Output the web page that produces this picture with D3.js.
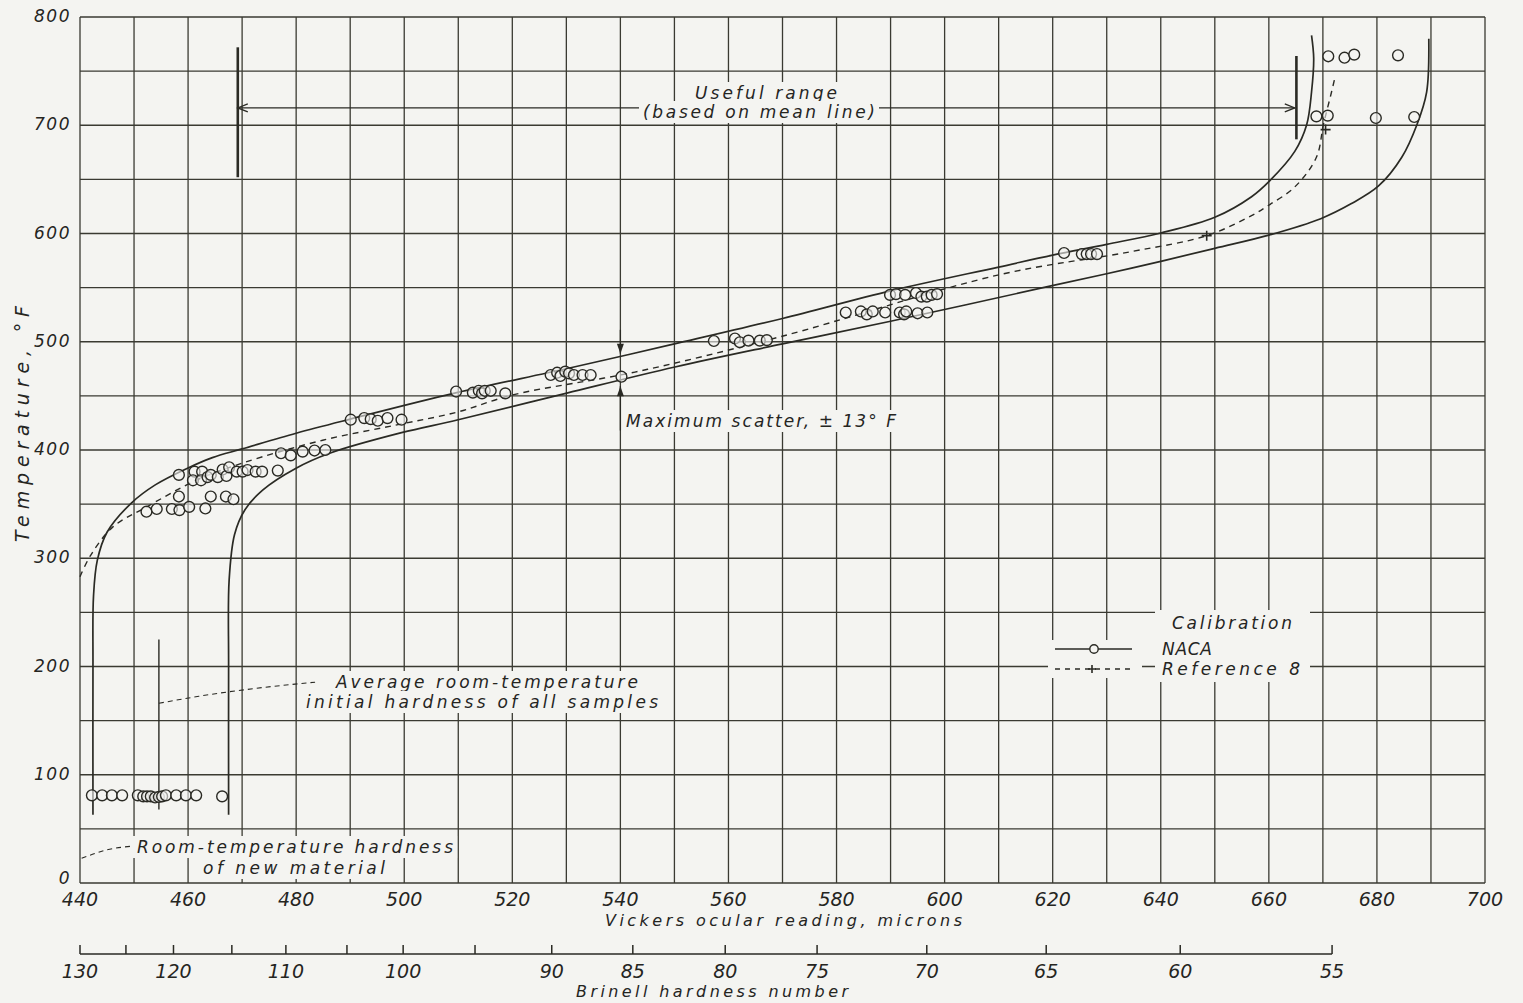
<!DOCTYPE html>
<html>
<head>
<meta charset="utf-8">
<script src="https://cdn.jsdelivr.net/npm/d3@7"></script>
<style>
  body { margin: 0; background: #f4f4f1; }
  svg { display: block; }
  text { font-family: "DejaVu Sans", sans-serif; font-style: italic; fill: #25251f; }
</style>
</head>
<body>
<svg id="chart" width="1523" height="1003"></svg>
<script>
// ---- values ----
// tick labels
var vickersTicks = [440, 460, 480, 500, 520, 540, 560, 580, 600, 620, 640, 660, 680, 700];
var tempTicks = [0, 100, 200, 300, 400, 500, 600, 700, 800];

// Brinell scale: number and the Vickers reading it sits under
var brinellNumbers   = [130, 125, 120, 115, 110, 105, 100, 95, 90, 85, 80, 75, 70, 65, 60, 55];
var brinellAtReading = [440, 448.5, 457.3, 468.1, 478.1, 489.4, 499.8, 513.1, 527.3, 542.3, 559.4, 576.4, 596.7, 618.8, 643.6, 671.7];
var brinellLabelled  = [130, 120, 110, 100, 90, 85, 80, 75, 70, 65, 60, 55];

// NACA calibration points [reading, temperature F]
var nacaRoom = [[442.2,81],[444.1,81],[445.9,81],[447.8,81],[450.7,81],[451.7,80],[452.4,80],[453.1,80],
  [453.9,79],[454.6,79.5],[455.2,80],[455.9,81],[457.8,81],[459.6,81],[461.5,81],[466.3,80]];
var naca350 = [[452.3,343],[454.2,345.5],[457,345.5],[458.4,344.5],[460.2,347.5],[463.2,346],
  [458.3,357],[464.2,357],[467,357],[468.4,354.5]];
var naca380 = [[458.3,377],[461.2,380],[462.6,380],[460.9,372],[462.4,372],[463.6,375],[464.2,377],
  [465.5,375],[466.4,382],[467.1,376],[467.6,384],[469,380],[470.1,380],[471,381.5],[472.5,380],
  [473.7,380],[476.6,381],[477.2,397],[479,395],[481.2,398.5],[483.4,399.5],[485.4,400]];
var naca430 = [[490.1,428],[492.6,429.5],[493.8,428.5],[495.1,427],[496.9,429.5],[499.5,428]];
var naca455 = [[509.6,454],[512.7,453],[513.8,454.7],[514.4,452.3],[514.9,454.7],[516,454.7],[518.7,452.3]];
var naca470 = [[527.1,469.3],[528.3,471.4],[528.9,468.4],[529.8,472.4],[530.5,470.8],[531.4,469.3],
  [533,469.3],[534.5,469.3],[540.2,467.7]];
var naca500 = [[557.3,500.7],[561.2,503],[562.1,499.5],[563.7,501],[565.8,501],[567.1,501.5]];
var naca530 = [[581.7,527],[584.5,528],[585.6,525.3],[586.7,528],[589,527],[591.7,527],[592.5,525.3],
  [592.9,528],[595,526.3],[596.8,527]];
var naca545 = [[589.9,543.3],[591,544],[592.7,543.3],[594.7,545],[595.7,541.7],[596.7,541.7],
  [597.6,543.3],[598.6,544]];
var naca580 = [[622.1,582],[625.4,581],[626.3,581],[627.1,581],[628.2,581]];
var naca710 = [[668.8,708.2],[670.9,708.9],[679.8,706.7],[686.9,707.6]];
var naca765 = [[671,763.7],[674,762.4],[675.8,765.2],[683.9,764.6]];

// Reference 8 points
var ref8 = [[648.5,598],[670.5,696]];

// band limits and the reference 8 curve [reading, temperature F]
var upperBand = [[442.4,63],[442.4,200],[442.5,265],[443.2,298],[445,324],[449.5,351],[454,368],
  [459.8,383],[464.5,393],[470,401],[480,415.5],[490,428.5],[509.7,453],[530.4,475.5],[550,498],
  [570,521.5],[590,547],[610,569],[620,580],[630,590],[640,600.5],[650,615],[656.8,634],
  [660.1,648.4],[664.8,675.9],[667,700.5],[667.9,730.7],[668.3,761.8],[667.9,783]];
var lowerBand = [[467.5,63],[467.5,200],[467.6,280],[468.6,322],[470.5,344.6],[473.8,363],
  [479.9,383],[486.2,397],[499.5,416],[509.8,427.7],[530.1,452.6],[550.1,476.7],[570,498],[590,518.9],
  [619.9,551.8],[634.6,568],[650,586.3],[660,598.5],[669.6,613.7],[675.2,627.4],[680.3,643.9],
  [684.6,670.4],[687.4,700.5],[689.2,730.7],[689.6,780]];
var ref8Curve = [[440,283],[442,303],[446.1,329],[452.2,347],[461.5,372],[470.1,388],[484.9,409],
  [498.4,423],[509.8,435],[520,450.8],[542.7,472],[569.5,504.5],[610.2,562],[634.6,583.3],
  [648.5,598],[656.8,616.5],[659.9,625.9],[664.8,643],[668.8,670.4],[670.1,700.5],[671.6,730.7],
  [672.2,743.5]];

// annotation anchors in data units
var usefulRange = {from: 469.2, to: 664.8, temp: 716};
var usefulBars = [[469.2, 652, 772], [665.1, 687, 764]];
var scatterAt = 540, scatterDown = [511, 489], scatterUp = [418, 459];
var avgReading = 454.6, avgSpan = [68, 225];
var avgLeader = [[454.6,166],[462,172.5],[472,179.5],[483.5,185.5]];
var newLeader = [[440.3,22.8],[444.9,30.5],[450,34.2]];

// ---- drawing ----
var ink = "#2a2a24";
var bg = "#f4f4f1";
var svg = d3.select("#chart");
svg.append("rect").attr("width", 1523).attr("height", 1003).attr("fill", bg);

var x = d3.scaleLinear().domain([440, 700]).range([80, 1485]);
var y = d3.scaleLinear().domain([0, 800]).range([883, 17]);

// grid every 10 microns and 50 F
var grid = svg.append("g").attr("stroke", "#3a3a32").attr("stroke-width", 1.3);
grid.selectAll(".gx").data(x.ticks(26)).enter().append("line")
  .attr("x1", d => x(d)).attr("x2", d => x(d))
  .attr("y1", y(0)).attr("y2", y(800));
grid.selectAll(".gy").data(y.ticks(16)).enter().append("line")
  .attr("x1", x(440)).attr("x2", x(700))
  .attr("y1", d => y(d)).attr("y2", d => y(d));

// tick labels
svg.append("g").selectAll("text").data(vickersTicks).enter().append("text")
  .attr("x", d => x(d)).attr("y", 906)
  .attr("text-anchor", "middle").attr("font-size", 19)
  .text(d => d);
svg.append("g").selectAll("text").data(tempTicks).enter().append("text")
  .attr("x", 71).attr("y", d => y(d) + (d === 0 ? 1 : 5))
  .attr("text-anchor", "end").attr("font-size", 17).attr("letter-spacing", 1.5)
  .text(d => d);

// Brinell scale
var bY = 954;
var brinellX = function(b){ return x(brinellAtReading[brinellNumbers.indexOf(b)]); };
var bAxis = svg.append("g").attr("stroke", ink).attr("stroke-width", 1.5);
bAxis.append("line").attr("x1", brinellX(130)).attr("x2", brinellX(55)).attr("y1", bY).attr("y2", bY);
bAxis.selectAll(".bt").data(brinellNumbers).enter().append("line")
  .attr("x1", d => brinellX(d)).attr("x2", d => brinellX(d))
  .attr("y1", bY).attr("y2", bY - 9);
svg.append("g").selectAll("text").data(brinellLabelled).enter().append("text")
  .attr("x", d => brinellX(d)).attr("y", 978)
  .attr("text-anchor", "middle").attr("font-size", 19)
  .text(d => d);

// text with optional paper mask behind it
var ann = svg.append("g");
function label(txt, px, py, len, size, mask, anchor){
  var t = ann.append("text").attr("x", px).attr("y", py)
    .attr("font-size", size).attr("text-anchor", anchor || "start")
    .attr("textLength", len).attr("lengthAdjust", "spacing")
    .text(txt);
  if (mask){
    var b = t.node().getBBox();
    ann.insert("rect", function(){ return t.node(); })
      .attr("x", b.x - 4).attr("y", b.y - 1)
      .attr("width", b.width + 8).attr("height", b.height + 2)
      .attr("fill", bg);
  }
  return t;
}

// useful range arrow (drawn before its text so the mask cuts it)
var ur = ann.append("g").attr("stroke", ink).attr("fill", "none").attr("stroke-width", 1.3);
ur.append("line").attr("x1", x(usefulRange.from)).attr("x2", x(usefulRange.to))
  .attr("y1", y(usefulRange.temp)).attr("y2", y(usefulRange.temp));
ur.append("path").attr("d", "M" + (x(usefulRange.from) + 10) + "," + (y(usefulRange.temp) - 4) +
  "L" + x(usefulRange.from) + "," + y(usefulRange.temp) + "L" + (x(usefulRange.from) + 10) + "," + (y(usefulRange.temp) + 4));
ur.append("path").attr("d", "M" + (x(usefulRange.to) - 10) + "," + (y(usefulRange.temp) - 4) +
  "L" + x(usefulRange.to) + "," + y(usefulRange.temp) + "L" + (x(usefulRange.to) - 10) + "," + (y(usefulRange.temp) + 4));
ann.selectAll(".bar").data(usefulBars).enter().append("line")
  .attr("stroke", ink).attr("stroke-width", 2.6)
  .attr("x1", d => x(d[0])).attr("x2", d => x(d[0]))
  .attr("y1", d => y(d[1])).attr("y2", d => y(d[2]));

label("Useful range", 695, 99, 142, 17, true);
label("(based on mean line)", 643, 118, 232, 17, true);

// maximum scatter arrows
var sc = ann.append("g").attr("stroke", ink).attr("stroke-width", 1.3);
sc.append("line").attr("x1", x(scatterAt)).attr("x2", x(scatterAt))
  .attr("y1", y(scatterDown[0])).attr("y2", y(scatterDown[1]));
sc.append("line").attr("x1", x(scatterAt)).attr("x2", x(scatterAt))
  .attr("y1", y(scatterUp[0])).attr("y2", y(scatterUp[1]));
ann.append("path").attr("fill", ink)
  .attr("d", "M" + (x(scatterAt) - 3.5) + "," + (y(scatterDown[1]) - 10) + "L" + x(scatterAt) + "," + y(scatterDown[1]) +
    "L" + (x(scatterAt) + 3.5) + "," + (y(scatterDown[1]) - 10) + "Z");
ann.append("path").attr("fill", ink)
  .attr("d", "M" + (x(scatterAt) - 3.5) + "," + (y(scatterUp[1]) + 10) + "L" + x(scatterAt) + "," + y(scatterUp[1]) +
    "L" + (x(scatterAt) + 3.5) + "," + (y(scatterUp[1]) + 10) + "Z");
label("Maximum scatter, \u00b1 13\u00b0 F", 626, 427, 270, 17, true);

// average room-temperature marker and leader
ann.append("line").attr("stroke", ink).attr("stroke-width", 1.4)
  .attr("x1", x(avgReading)).attr("x2", x(avgReading))
  .attr("y1", y(avgSpan[0])).attr("y2", y(avgSpan[1]));
var leader = d3.line().x(d => x(d[0])).y(d => y(d[1])).curve(d3.curveMonotoneX);
ann.append("path").attr("d", leader(avgLeader)).attr("fill", "none")
  .attr("stroke", ink).attr("stroke-width", 1.1).attr("stroke-dasharray", "5,4");
label("Average room-temperature", 336, 688, 302, 17, true);
label("initial hardness of all samples", 306, 708, 352, 17, true);

ann.append("path").attr("d", leader(newLeader)).attr("fill", "none")
  .attr("stroke", ink).attr("stroke-width", 1.1).attr("stroke-dasharray", "5,4");
label("Room-temperature hardness", 137, 853, 316, 17, true);
label("of new material", 203, 874, 182, 17, true);

// axis titles
label("Vickers ocular reading, microns", 605, 926, 357, 16, false);
label("Brinell hardness number", 576, 997, 272, 16, false);
ann.append("text").attr("transform", "translate(29,424) rotate(-90)")
  .attr("text-anchor", "middle").attr("font-size", 19)
  .attr("textLength", 236).attr("lengthAdjust", "spacing")
  .text("Temperature, \u00b0F");

// curves
var curve = d3.line().x(d => x(d[0])).y(d => y(d[1])).curve(d3.curveCatmullRom.alpha(0.5));
var cg = svg.append("g").attr("fill", "none").attr("stroke", ink);
cg.append("path").attr("d", curve(upperBand)).attr("stroke-width", 1.7);
cg.append("path").attr("d", curve(lowerBand)).attr("stroke-width", 1.7);
cg.append("path").attr("d", curve(ref8Curve)).attr("stroke-width", 1.4).attr("stroke-dasharray", "6,5");

// NACA points
var naca = [].concat(nacaRoom, naca350, naca380, naca430, naca455, naca470, naca500,
  naca530, naca545, naca580, naca710, naca765);
svg.append("g").selectAll("circle").data(naca).enter().append("circle")
  .attr("cx", d => x(d[0])).attr("cy", d => y(d[1])).attr("r", 5.4)
  .attr("fill", bg).attr("fill-opacity", 0.6).attr("stroke", ink).attr("stroke-width", 1.4);

// Reference 8 points
function plus(g, px, py, s){
  g.append("path").attr("d", "M" + (px - s) + "," + py + "H" + (px + s) + "M" + px + "," + (py - s) + "V" + (py + s))
    .attr("stroke", ink).attr("stroke-width", 1.6);
}
var pg = svg.append("g");
ref8.forEach(function(d){ plus(pg, x(d[0]), y(d[1]), 5); });

// legend
var lg = svg.append("g");
lg.append("rect").attr("x", 1048).attr("y", 640).attr("width", 94).attr("height", 38).attr("fill", bg);
lg.append("rect").attr("x", 1155).attr("y", 610).attr("width", 155).attr("height", 72).attr("fill", bg);
lg.append("line").attr("x1", 1055).attr("x2", 1132).attr("y1", 649).attr("y2", 649)
  .attr("stroke", ink).attr("stroke-width", 1.5);
lg.append("circle").attr("cx", 1094).attr("cy", 649).attr("r", 4.2)
  .attr("fill", bg).attr("stroke", ink).attr("stroke-width", 1.4);
lg.append("line").attr("x1", 1055).attr("x2", 1132).attr("y1", 669).attr("y2", 669)
  .attr("stroke", ink).attr("stroke-width", 1.4).attr("stroke-dasharray", "5,5");
plus(lg, 1092, 669, 4);
lg.append("text").attr("x", 1172).attr("y", 629).attr("font-size", 17)
  .attr("textLength", 120).attr("lengthAdjust", "spacing").text("Calibration");
lg.append("text").attr("x", 1162).attr("y", 655).attr("font-size", 17)
  .attr("textLength", 50).attr("lengthAdjust", "spacing").text("NACA");
lg.append("text").attr("x", 1162).attr("y", 675).attr("font-size", 17)
  .attr("textLength", 138).attr("lengthAdjust", "spacing").text("Reference 8");
</script>
</body>
</html>
